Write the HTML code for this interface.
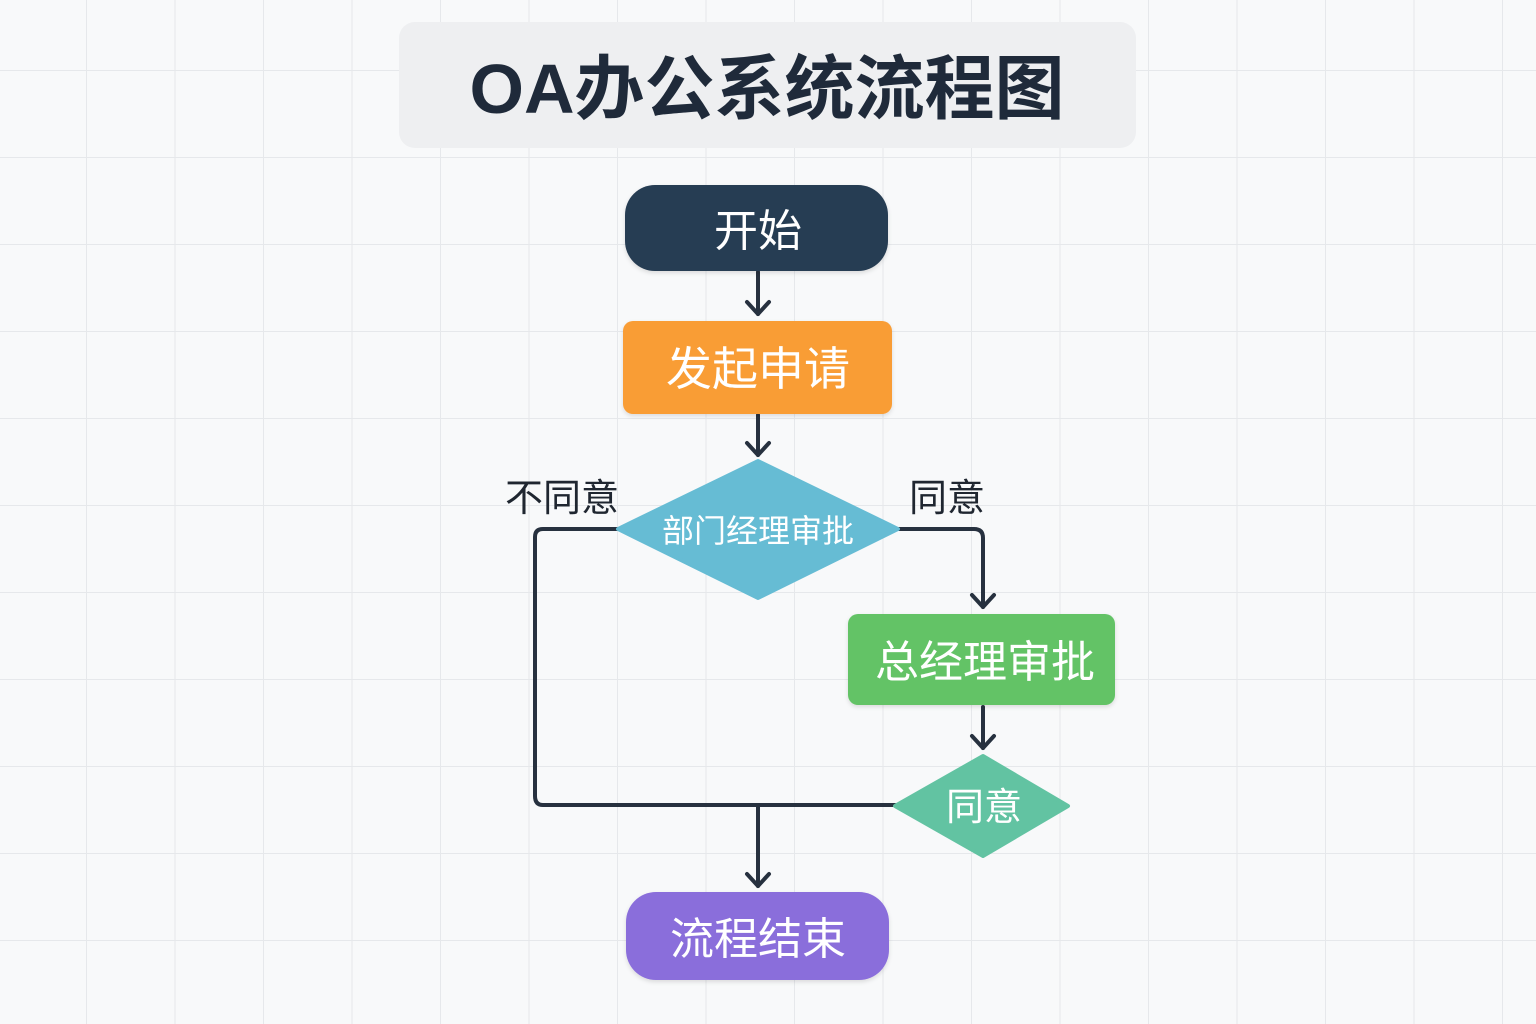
<!DOCTYPE html>
<html><head><meta charset="utf-8"><style>
html,body{margin:0;padding:0;background:#f8f9fa;}
svg{display:block}
text{font-family:"Liberation Sans","Noto Sans CJK SC",sans-serif;}
</style></head><body>
<svg width="1536" height="1024" viewBox="0 0 1536 1024" xmlns="http://www.w3.org/2000/svg">
<defs>
<pattern id="g" x="86" y="70" width="88.5" height="87" patternUnits="userSpaceOnUse">
<path d="M0 0H88.5M0 0V87" stroke="#e6e8eb" stroke-width="2" fill="none"/>
</pattern>
<filter id="sh" x="-10%" y="-10%" width="120%" height="130%"><feDropShadow dx="0" dy="2" stdDeviation="2" flood-color="#000" flood-opacity="0.12"/></filter>
</defs>
<rect width="1536" height="1024" fill="#f8f9fa"/>
<rect width="1536" height="1024" fill="url(#g)"/>
<rect x="399" y="22" width="737" height="126" rx="16" fill="#eeeff1"/>
<text x="767" y="113" text-anchor="middle" font-size="70" font-weight="bold" fill="#1f2a3a">OA办公系统流程图</text>

<g stroke="#27313f" stroke-width="4" fill="none" stroke-linecap="round" stroke-linejoin="round">
<path d="M758 272V314"/><path d="M747 302L758 314L769 302"/>
<path d="M758 415V455"/><path d="M747 443L758 455L769 443"/>
<path d="M898 529H974Q983 529 983 538V607"/><path d="M972 595L983 607L994 595"/>
<path d="M983 707V748"/><path d="M972 736L983 748L994 736"/>
<path d="M620 529H543Q535 529 535 537V796Q535 805 543 805H895"/>
<path d="M758 805V886"/><path d="M747 874L758 886L769 874"/>
</g>

<rect x="625" y="185" width="263" height="86" rx="30" fill="#273c52" filter="url(#sh)"/>
<text x="758" y="246" text-anchor="middle" font-size="44" fill="#fff">开始</text>

<rect x="623" y="321" width="269" height="93" rx="10" fill="#f99d35" filter="url(#sh)"/>
<text x="758" y="385" text-anchor="middle" font-size="46" fill="#fff">发起申请</text>

<path d="M758 461L898 529L758 598L618 529Z" fill="#66bcd4" stroke="#66bcd4" stroke-width="4" stroke-linejoin="round"/>
<text x="758" y="542" text-anchor="middle" font-size="32" fill="#fff">部门经理审批</text>

<text x="562" y="511" text-anchor="middle" font-size="38" fill="#1f2630">不同意</text>
<text x="947" y="511" text-anchor="middle" font-size="38" fill="#1f2630">同意</text>

<rect x="848" y="614" width="267" height="91" rx="10" fill="#63c366" filter="url(#sh)"/>
<text x="985" y="677" text-anchor="middle" font-size="44" fill="#fff">总经理审批</text>

<path d="M983 756L1068 806L983 856L895 806Z" fill="#62c3a2" stroke="#62c3a2" stroke-width="4" stroke-linejoin="round"/>
<text x="984" y="820" text-anchor="middle" font-size="38" fill="#fff">同意</text>

<rect x="626" y="892" width="263" height="88" rx="30" fill="#8a6edb" filter="url(#sh)"/>
<text x="758" y="954" text-anchor="middle" font-size="44" fill="#fff">流程结束</text>
</svg>
</body></html>
